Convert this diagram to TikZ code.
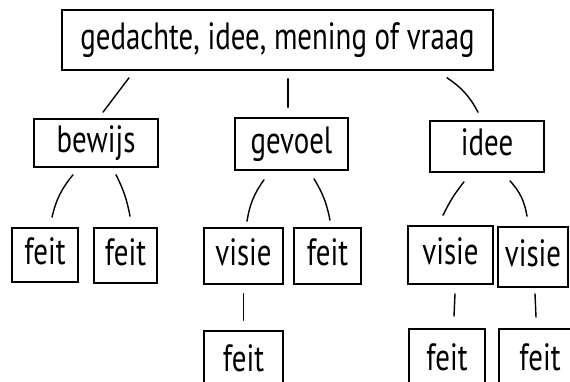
\documentclass[tikz,border=0pt]{standalone}
\usepackage{fontspec}
\setmainfont[FakeStretch=0.76]{PT Sans}
\usepackage{tikz}
\usetikzlibrary{
    shapes,
    positioning
}
\tikzset{
  box/.style = {
      draw,
      rectangle,
      line width=1.6pt,
      inner sep=0pt,
      font=\fontsize{38}{40}\selectfont,
      text height=27pt,
      text depth=8pt,
      align=center
  },
  edge/.style = {
      line width=1.4pt,
      line cap=round
  }
}

\begin{document}
\begin{tikzpicture}[x=1pt, y=-1pt]
        \useasboundingbox (0,0) rectangle (570,382);
        \clip (0,0) rectangle (570,382);
        % Boxes
        \node[box, minimum width=431pt, minimum height=60pt] (vraag) at (277.5,40) {gedachte, idee, mening of vraag};
        \node[box, minimum width=124pt, minimum height=48pt] (bewijs) at (96,143) {bewijs};
        \node[box, minimum width=113pt, minimum height=52pt] (gevoel) at (291.5,144) {gevoel};
        \node[box, minimum width=114pt, minimum height=51pt] (idee) at (487,146.5) {idee};
        \node[box, minimum width=66pt, minimum height=54pt] (feitA) at (45,255) {feit};
        \node[box, minimum width=63pt, minimum height=55pt] (feitB) at (125.5,255.5) {feit};
        \node[box, minimum width=79pt, minimum height=56pt] (visieC) at (243.5,256) {visie};
        \node[box, minimum width=67pt, minimum height=56pt] (feitD) at (327.5,256) {feit};
        \node[box, minimum width=85pt, minimum height=58pt] (visieE) at (450.5,255) {visie};
        \node[box, minimum width=70pt, minimum height=60pt] (visieF) at (533,257) {visie};
        \node[box, minimum width=79pt, minimum height=61pt] (feitG) at (243.5,361.5) {feit};
        \node[box, minimum width=76pt, minimum height=63pt] (feitH) at (447,360.5) {feit};
        \node[box, minimum width=82pt, minimum height=63pt] (feitI) at (540,360.5) {feit};
        % Edges
        \draw[edge] ([xshift=-148.5pt,yshift=-7pt]vraag.south) -- ([xshift=7pt,yshift=6pt]bewijs.north);
        \draw[edge] ([xshift=10.5pt,yshift=-8pt]vraag.south) -- ([xshift=-3.5pt,yshift=10pt]gevoel.north);
        \draw[edge] ([xshift=169.5pt,yshift=-7pt]vraag.south) to[bend left=14] ([xshift=-9pt,yshift=8pt]idee.north);
        \draw[edge] ([xshift=-23pt,yshift=-7pt]bewijs.south) to[bend right=13] ([xshift=7pt,yshift=10pt]feitA.north);
        \draw[edge] ([xshift=20pt,yshift=-7pt]bewijs.south) to[bend left=8] ([xshift=4.5pt,yshift=11pt]feitB.north);
        \draw[edge] ([xshift=-27.5pt,yshift=-9pt]gevoel.south) to[bend right=13] ([xshift=3.5pt,yshift=6pt]visieC.north);
        \draw[edge] ([xshift=22.5pt,yshift=-8pt]gevoel.south) to[bend left=10] ([xshift=2.5pt,yshift=7pt]feitD.north);
        \draw[edge] ([xshift=-23pt,yshift=-9pt]idee.south) to[bend right=6] ([xshift=-7.5pt,yshift=10pt]visieE.north);
        \draw[edge] ([xshift=23pt,yshift=-8pt]idee.south) to[bend left=16] ([xshift=-6pt,yshift=10pt]visieF.north);
        \draw[edge] ([yshift=-9pt]visieC.south) -- ([yshift=10pt]feitG.north);
        \draw[edge] ([xshift=4.5pt,yshift=-9pt]visieE.south) -- ([xshift=7pt,yshift=12pt]feitH.north);
        \draw[edge] ([xshift=2pt,yshift=-6pt]visieF.south) -- ([xshift=-4pt,yshift=11pt]feitI.north);
    \end{tikzpicture}
\end{document}
